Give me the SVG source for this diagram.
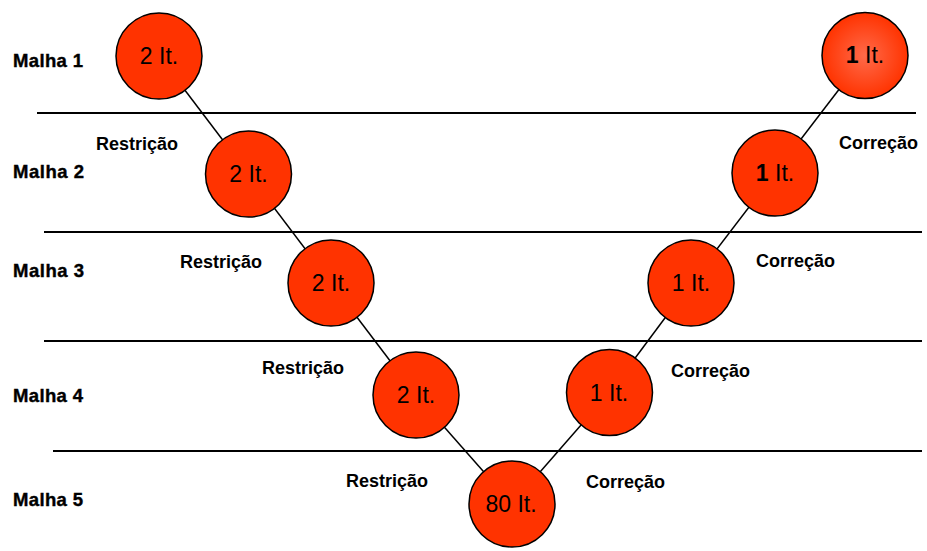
<svg xmlns="http://www.w3.org/2000/svg" width="927" height="551" viewBox="0 0 927 551">
<defs>
<radialGradient id="glow" cx="50%" cy="50%" r="50%">
<stop offset="0" stop-color="#FF6A4A"/>
<stop offset="1" stop-color="#FF3300"/>
</radialGradient>
</defs>
<style>
.node{fill:#FF3300;stroke:#000;stroke-width:1.5}
.nt{font-family:"Liberation Sans",Arial,sans-serif;font-size:23px;text-anchor:middle;fill:#000}
.lbl{font-family:"Liberation Sans",Arial,sans-serif;font-size:18px;font-weight:bold;fill:#000}
.lvl{font-family:"Liberation Sans",Arial,sans-serif;font-size:18.5px;font-weight:bold;fill:#000;stroke:#000;stroke-width:0.4}
.sep{stroke:#000;stroke-width:2}
.con{stroke:#000;stroke-width:1.5;fill:none}
</style>
<rect width="927" height="551" fill="#fff"/>
<g id="separators">
<line class="sep" x1="37" y1="113" x2="916" y2="113"/>
<line class="sep" x1="44" y1="232" x2="922" y2="232"/>
<line class="sep" x1="44" y1="341" x2="922" y2="341"/>
<line class="sep" x1="53" y1="451" x2="922" y2="451"/>
</g>
<g id="levels">
<text class="lvl" x="13" y="67" textLength="70">Malha 1</text>
<text class="lvl" x="13" y="178" textLength="71">Malha 2</text>
<text class="lvl" x="13" y="277" textLength="71">Malha 3</text>
<text class="lvl" x="13" y="402" textLength="70">Malha 4</text>
<text class="lvl" x="13" y="506" textLength="70">Malha 5</text>
</g>
<g id="connectors">
<line class="con" x1="159" y1="56" x2="248.5" y2="174"/>
<line class="con" x1="248.5" y1="174" x2="331" y2="283"/>
<line class="con" x1="331" y1="283" x2="416" y2="395"/>
<line class="con" x1="416" y1="395" x2="512" y2="504"/>
<line class="con" x1="512" y1="504" x2="609.5" y2="392.5"/>
<line class="con" x1="609.5" y1="392.5" x2="691" y2="283"/>
<line class="con" x1="691" y1="283" x2="775" y2="173"/>
<line class="con" x1="775" y1="173" x2="865" y2="55.5"/>
</g>
<g id="edge-labels">
<text class="lbl" x="96" y="150" textLength="82">Restrição</text>
<text class="lbl" x="180" y="268" textLength="82">Restrição</text>
<text class="lbl" x="262" y="374" textLength="82">Restrição</text>
<text class="lbl" x="346" y="487" textLength="82">Restrição</text>
<text class="lbl" x="839" y="149" textLength="79">Correção</text>
<text class="lbl" x="756" y="267" textLength="79">Correção</text>
<text class="lbl" x="671" y="377" textLength="79">Correção</text>
<text class="lbl" x="586" y="488" textLength="79">Correção</text>
</g>
<g id="n-l1"><circle class="node" cx="159" cy="56" r="43"/><text class="nt" x="159" y="64">2 It.</text></g>
<g id="n-l2"><circle class="node" cx="248.5" cy="174" r="43"/><text class="nt" x="248.5" y="182">2 It.</text></g>
<g id="n-l3"><circle class="node" cx="331" cy="283" r="43"/><text class="nt" x="331" y="291">2 It.</text></g>
<g id="n-l4"><circle class="node" cx="416" cy="395" r="43"/><text class="nt" x="416" y="403">2 It.</text></g>
<g id="n-bottom"><circle class="node" cx="512" cy="504" r="43"/><text class="nt" x="511" y="512">80 It.</text></g>
<g id="n-r4"><circle class="node" cx="609.5" cy="392.5" r="43"/><text class="nt" x="609" y="401">1 It.</text></g>
<g id="n-r3"><circle class="node" cx="691" cy="283" r="43"/><text class="nt" x="691" y="291">1 It.</text></g>
<g id="n-r2"><circle class="node" cx="775" cy="173" r="43"/><text class="nt" x="775" y="181"><tspan font-weight="bold">1</tspan> It.</text></g>
<g id="n-r1"><circle class="node" cx="865" cy="55.5" r="43" style="fill:url(#glow)"/><text class="nt" x="865" y="63"><tspan font-weight="bold">1</tspan> It.</text></g>
</svg>
